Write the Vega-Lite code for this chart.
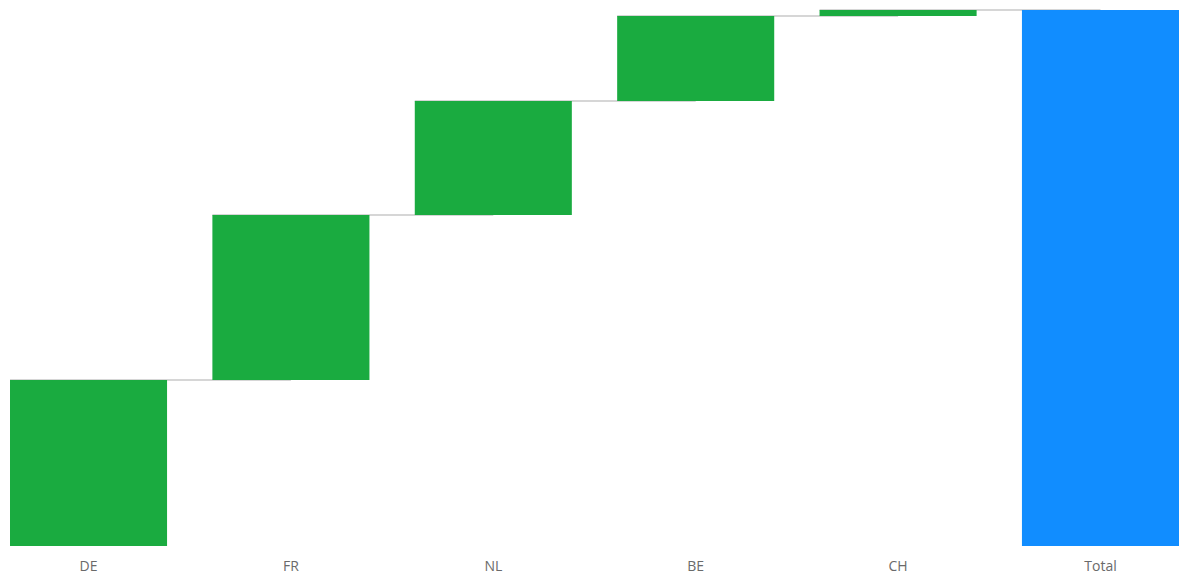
{
  "$schema": "https://vega.github.io/schema/vega-lite/v6.json",
  "autosize": "none",
  "padding": {"left": 10, "top": 10, "right": 1, "bottom": 31},
  "width": 1169,
  "height": 536,
  "config": {"view": {"stroke": null}},
  "data": {"values": [
    {"cat": "DE", "start": 0, "end": 166, "next": "FR", "type": "inc"},
    {"cat": "FR", "start": 166, "end": 331, "next": "NL", "type": "inc"},
    {"cat": "NL", "start": 331, "end": 445, "next": "BE", "type": "inc"},
    {"cat": "BE", "start": 445, "end": 530, "next": "CH", "type": "inc"},
    {"cat": "CH", "start": 530, "end": 536, "next": "Total", "type": "inc"},
    {"cat": "Total", "start": 0, "end": 536, "next": null, "type": "total"}
  ]},
  "encoding": {
    "x": {"field": "cat", "type": "nominal", "sort": null,
      "scale": {"paddingInner": 0.224, "paddingOuter": 0},
      "axis": {"title": null, "domain": false, "ticks": false, "labelAngle": 0, "labelPadding": 13, "labelFontSize": 14, "labelFont": "Open Sans", "labelColor": "#6a6a6a"}}
  },
  "layer": [
    {
      "transform": [{"filter": "datum.next != null"}],
      "mark": {"type": "rule", "color": "#c8c8c8", "strokeWidth": 1.5},
      "encoding": {
        "x": {"field": "cat", "type": "nominal", "sort": null, "bandPosition": 0},
        "x2": {"field": "next"},
        "y": {"field": "end", "type": "quantitative", "scale": {"domain": [0, 536], "nice": false}, "axis": null}
      }
    },
    {
      "mark": {"type": "bar"},
      "encoding": {
        "y": {"field": "start", "type": "quantitative", "scale": {"domain": [0, 536], "nice": false}, "axis": null},
        "y2": {"field": "end"},
        "color": {"field": "type", "type": "nominal", "scale": {"domain": ["inc", "total"], "range": ["#1AAB40", "#118DFF"]}, "legend": null}
      }
    }
  ]
}
